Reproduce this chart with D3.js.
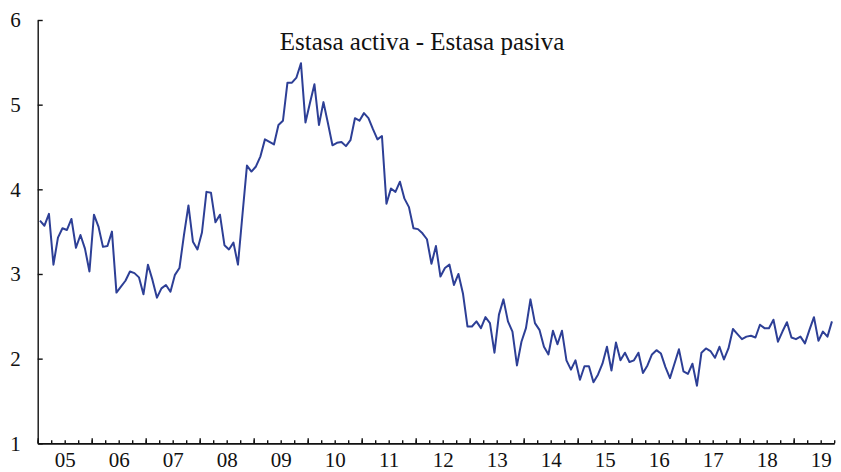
<!DOCTYPE html>
<html>
<head>
<meta charset="utf-8">
<script src="https://cdn.jsdelivr.net/npm/d3@7"></script>
<style>
  body { margin: 0; background: #fff; }
  text { font-family: "Liberation Serif", "Times New Roman", serif; fill: #111; }
</style>
</head>
<body>
<script>
// monthly spread, jan 2005 - sep 2019
var spread = [
  3.63, 3.57, 3.71, 3.11, 3.43, 3.54, 3.52, 3.65, 3.31, 3.46, 3.30, 3.03,
  3.70, 3.56, 3.32, 3.33, 3.50, 2.78, 2.85, 2.92, 3.03, 3.01, 2.96, 2.76,
  3.11, 2.93, 2.72, 2.83, 2.87, 2.79, 2.99, 3.07, 3.46, 3.81, 3.38, 3.29,
  3.49, 3.97, 3.96, 3.61, 3.70, 3.34, 3.29, 3.37, 3.11, 3.70, 4.28, 4.21,
  4.27, 4.39, 4.59, 4.56, 4.53, 4.76, 4.81, 5.26, 5.26, 5.32, 5.49, 4.79,
  5.02, 5.24, 4.76, 5.03, 4.78, 4.52, 4.55, 4.56, 4.51, 4.58, 4.84, 4.81,
  4.90, 4.84, 4.71, 4.59, 4.63, 3.83, 4.01, 3.97, 4.09, 3.89, 3.79, 3.54,
  3.53, 3.48, 3.41, 3.12, 3.33, 2.97, 3.07, 3.11, 2.87, 3.00, 2.77, 2.38,
  2.38, 2.44, 2.36, 2.49, 2.42, 2.07, 2.52, 2.70, 2.44, 2.32, 1.92, 2.20,
  2.36, 2.70, 2.42, 2.34, 2.14, 2.05, 2.33, 2.17, 2.33, 1.98, 1.87, 1.98,
  1.75, 1.91, 1.91, 1.72, 1.81, 1.94, 2.14, 1.86, 2.19, 1.98, 2.07, 1.96,
  1.98, 2.07, 1.83, 1.92, 2.05, 2.10, 2.06, 1.90, 1.77, 1.94, 2.11, 1.85,
  1.82, 1.94, 1.68, 2.07, 2.12, 2.09, 2.01, 2.14, 1.99, 2.12, 2.35, 2.29,
  2.23, 2.26, 2.27, 2.25, 2.40, 2.36, 2.36, 2.46, 2.20, 2.32, 2.43, 2.25,
  2.23, 2.26, 2.18, 2.34, 2.49, 2.21, 2.32, 2.26, 2.44
];
var yearLabels = ["05", "06", "07", "08", "09", "10", "11", "12", "13", "14", "15", "16", "17", "18", "19"];
var yTicks = [1, 2, 3, 4, 5, 6];
var title = "Estasa activa - Estasa pasiva";

var width = 841, height = 472;
// note: can't call it "top" at global scope (window.top)
var plot = {left: 37.7, right: 834.2, top: 20, bottom: 443.3};
var lineColor = "#2d3f96";

var svg = d3.select("body")
    .append("svg")
    .attr("width", width)
    .attr("height", height);

// x in months since jan 2005, axis runs to oct 2019
var nMonths = 177;
var xScale = d3.scaleLinear()
    .domain([0, nMonths])
    .range([plot.left, plot.right]);

var yScale = d3.scaleLinear()
    .domain([1, 6])
    .range([plot.bottom, plot.top]);

// quarter ticks (short) and year ticks (longer), both pointing up
var quarters = d3.range(0, nMonths + 1, 3);
var years = d3.range(0, nMonths + 1, 12);

svg.append("g")
    .attr("transform", "translate(0," + plot.bottom + ")")
    .call(d3.axisBottom(xScale).tickValues(quarters).tickSizeInner(-3).tickSizeOuter(0).tickFormat(""));

svg.append("g")
    .attr("transform", "translate(0," + plot.bottom + ")")
    .call(d3.axisBottom(xScale).tickValues(years).tickSizeInner(-5).tickSizeOuter(0).tickFormat(""));

// year labels sit in the middle of each year
var gLabels = svg.append("g")
    .attr("transform", "translate(0," + plot.bottom + ")")
    .call(d3.axisBottom(xScale)
        .tickValues(yearLabels.map(function(d, i) { return i * 12 + 6; }))
        .tickSize(0)
        .tickPadding(9)
        .tickFormat(function(d) { return yearLabels[(d - 6) / 12]; }));
gLabels.select(".domain").remove();

svg.append("g")
    .attr("transform", "translate(" + plot.left + ",0)")
    .call(d3.axisLeft(yScale).tickValues(yTicks).tickSizeInner(-5).tickSizeOuter(0).tickPadding(17).tickFormat(d3.format("d")));

svg.selectAll(".domain, .tick line")
    .attr("stroke", "#111")
    .attr("stroke-width", 1.4);
svg.selectAll(".tick text")
    .attr("font-family", "Liberation Serif, serif")
    .attr("font-size", 21)
    .attr("fill", "#111");

// the line itself
var line = d3.line()
    .x(function(d, i) { return xScale(i + 0.5); })
    .y(function(d) { return yScale(d); });

svg.append("path")
    .datum(spread)
    .attr("d", line)
    .attr("fill", "none")
    .attr("stroke", lineColor)
    .attr("stroke-width", 2)
    .attr("stroke-linejoin", "round");

svg.append("text")
    .attr("x", 422)
    .attr("y", 50)
    .attr("text-anchor", "middle")
    .attr("font-size", 25)
    .text(title);
</script>
</body>
</html>
